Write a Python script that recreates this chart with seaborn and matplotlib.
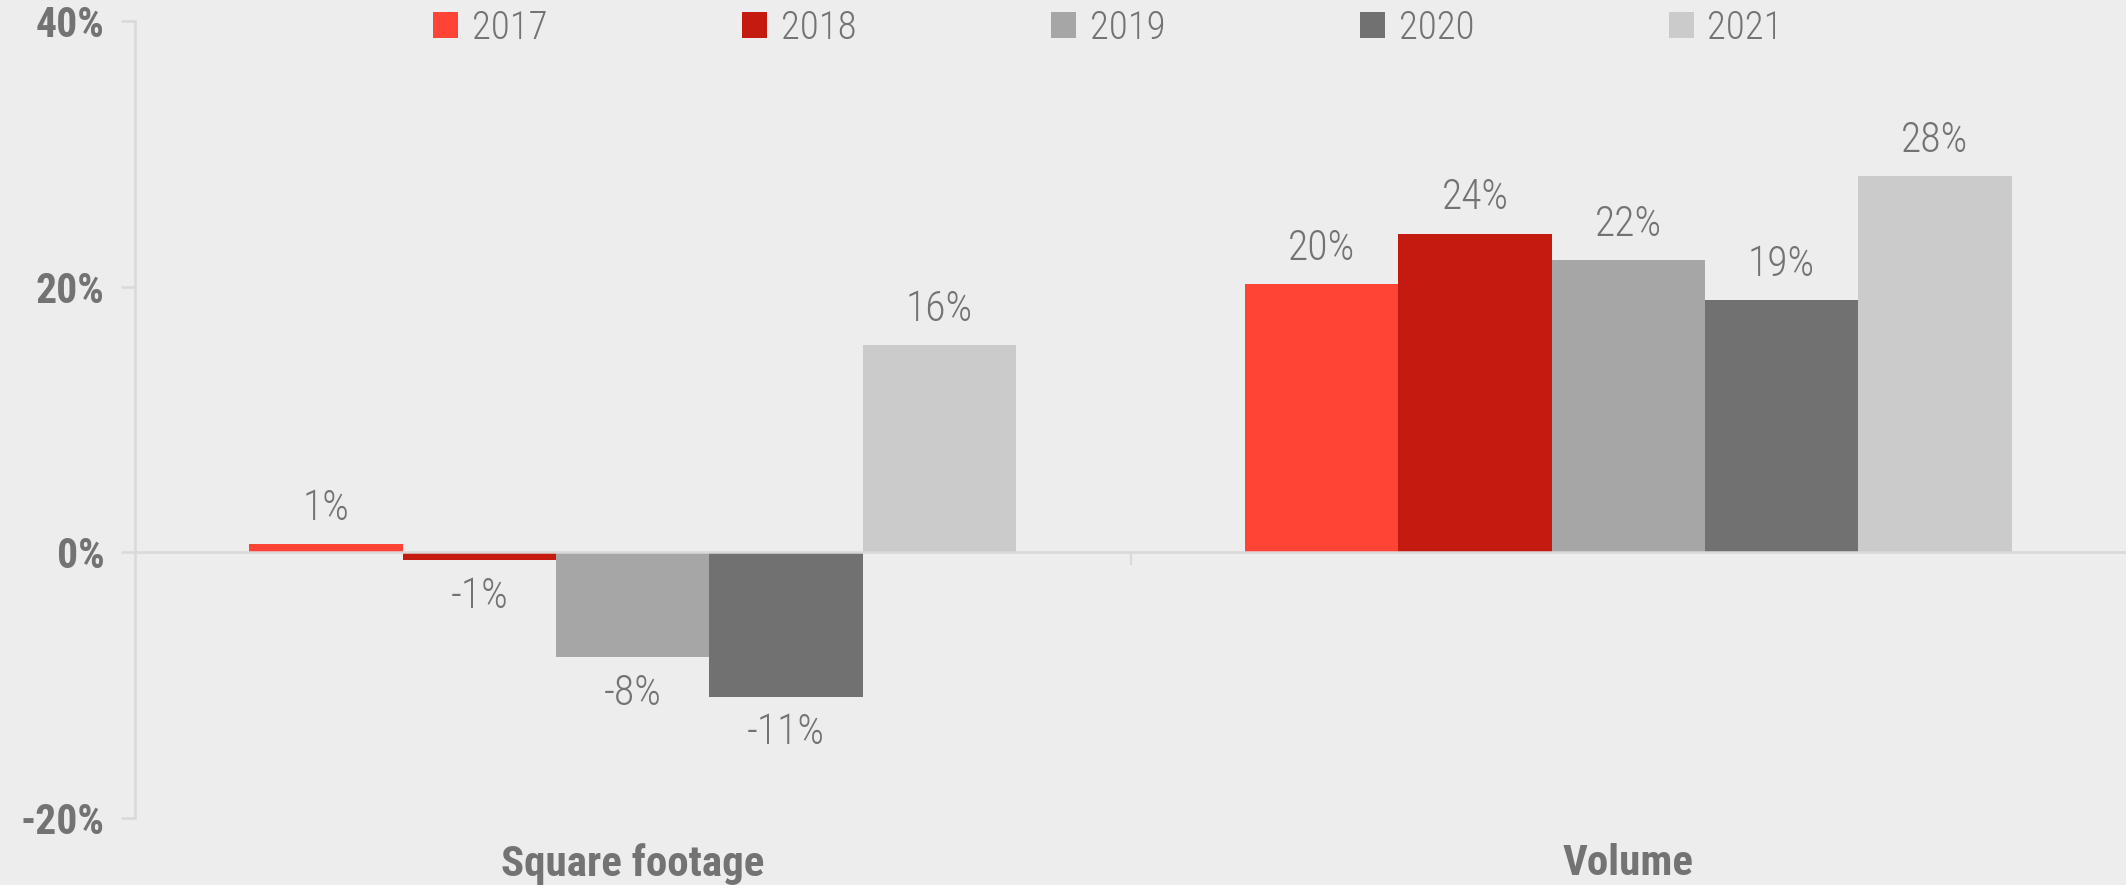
import matplotlib
matplotlib.use("Agg")
import matplotlib.pyplot as plt
from matplotlib import font_manager
from matplotlib.patches import Patch
import seaborn as sns
import pandas as pd

# Year-over-year change (%) by measure
categories = ["Square footage", "Volume"]
years = ["2017", "2018", "2019", "2020", "2021"]
square_footage = [0.6, -0.6, -7.9, -10.9, 15.6]
volume = [20.2, 24.0, 22.0, 19.0, 28.3]
y_ticks = [-20, 0, 20, 40]

palette = ["#FF4436", "#C41A0F", "#A6A6A6", "#717171", "#CBCBCB"]
bg = "#EDEDED"
text_col = "#737373"
axis_col = "#D9D9D9"


def pick_font(candidates):
    names = {f.name for f in font_manager.fontManager.ttflist}
    for c in candidates:
        if c in names:
            return c
    return "DejaVu Sans"


narrow = pick_font(["Roboto Condensed", "Liberation Sans Narrow", "DejaVu Sans Condensed", "Liberation Sans"])
light = narrow

sns.set_theme(style="white")
plt.rcParams["font.family"] = [narrow, "DejaVu Sans"]

rows = []
for cat, vals in zip(categories, [square_footage, volume]):
    for yr, v in zip(years, vals):
        rows.append({"measure": cat, "year": yr, "change": v})
df = pd.DataFrame(rows)

fig = plt.figure(figsize=(21.26, 8.85), dpi=100, facecolor=bg)
ax = fig.add_axes([135 / 2126, 1 - 818 / 885, 1 - 135 / 2126, (818 - 21) / 885])
ax.set_facecolor(bg)

sns.barplot(data=df, x="measure", y="change", hue="year", hue_order=years,
            order=categories, palette=palette, width=0.77, saturation=1,
            linewidth=0, ax=ax, legend=False)

for cont, yr in zip(ax.containers, years):
    vals = [r["change"] for _, r in df[df["year"] == yr].iterrows()]
    ax.bar_label(cont, labels=[f"{v:.0f}%" for v in vals], padding=11,
                 fontsize=30, fontweight="light", color=text_col,
                 family=[light, "DejaVu Sans"])

ax.set_xlim(-0.5, 1.5)
ax.set_ylim(-20, 40)
ax.set_yticks(y_ticks)
ax.set_yticklabels([f"{t}%" for t in y_ticks], fontsize=30, fontweight="bold",
                   color=text_col)
ax.tick_params(axis="y", left=True, length=10, width=1.8, color=axis_col, pad=12)

for s in ["top", "right"]:
    ax.spines[s].set_visible(False)
ax.spines["left"].set_color(axis_col)
ax.spines["left"].set_linewidth(1.8)
ax.spines["bottom"].set_position(("data", 0))
ax.spines["bottom"].set_color(axis_col)
ax.spines["bottom"].set_linewidth(1.8)

# Tick between the two category groups on the zero line
ax.set_xticks([0, 1])
ax.set_xticklabels([])
ax.tick_params(axis="x", which="major", length=0)
ax.set_xticks([0.5], minor=True)
ax.tick_params(axis="x", which="minor", length=9, width=1.5, color=axis_col,
               direction="out", bottom=True)
ax.set_xlabel("")
ax.set_ylabel("")

# Category names along the bottom of the plot area
sec = ax.secondary_xaxis(0.0)
sec.set_xticks([0, 1])
sec.set_xticklabels(categories, fontsize=31, fontweight="bold", color=text_col)
sec.tick_params(axis="x", length=0, pad=18)
sec.spines["bottom"].set_visible(False)

handles = [Patch(facecolor=c, edgecolor="none", label=y) for c, y in zip(palette, years)]
fig.legend(handles=handles, loc="center", bbox_to_anchor=(1108 / 2126, 1 - 28 / 885),
           ncol=5, frameon=False, handlelength=0.65, handleheight=0.65,
           handletextpad=0.35, columnspacing=5.0, labelcolor=text_col,
           prop={"family": [light, "DejaVu Sans"], "size": 28, "weight": "light"})

fig.savefig("out.png", dpi=100, facecolor=bg)
